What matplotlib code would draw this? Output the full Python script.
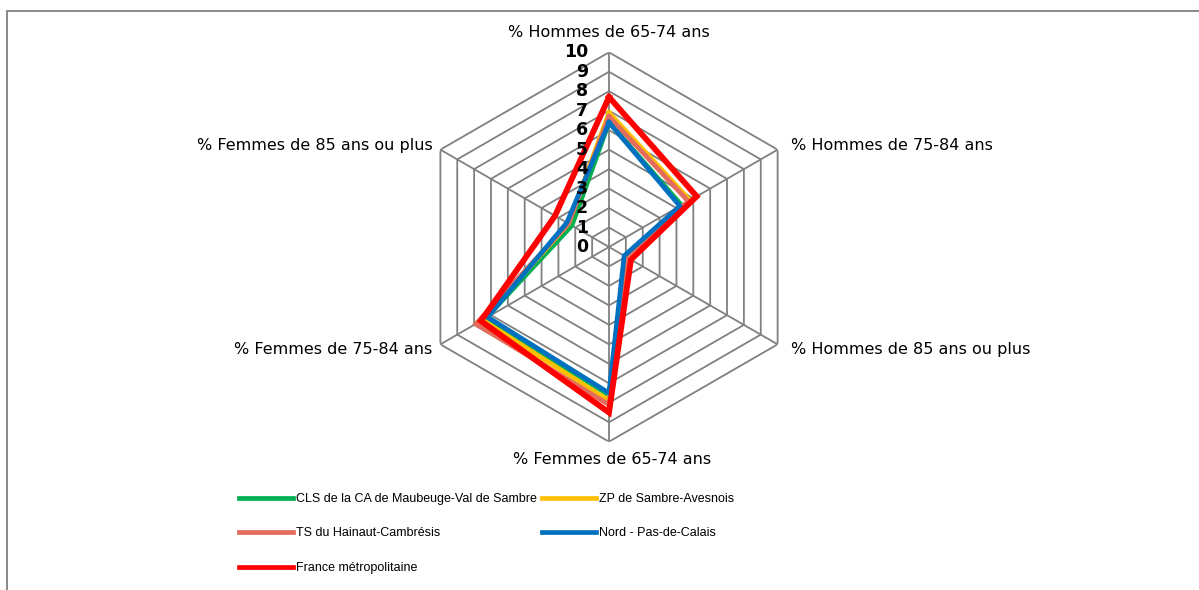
import numpy as np
import matplotlib
matplotlib.use("Agg")
import matplotlib.pyplot as plt
from matplotlib.lines import Line2D

# axes of the radar, clockwise from the top
categories = ["% Hommes de 65-74 ans", "% Hommes de 75-84 ans", "% Hommes de 85 ans ou plus",
              "% Femmes de 65-74 ans", "% Femmes de 75-84 ans", "% Femmes de 85 ans ou plus"]

cls_maubeuge = [6.4, 4.3, 1.0, 7.6, 7.3, 2.2]
zp_sambre = [6.9, 4.8, 1.0, 7.9, 7.5, 2.4]
ts_hainaut = [6.7, 4.7, 1.0, 8.1, 7.9, 2.4]
nord_pdc = [6.4, 4.2, 0.9, 7.5, 7.2, 2.5]
france = [7.7, 5.2, 1.3, 8.5, 7.6, 3.2]

series_names = ["CLS de la CA de Maubeuge-Val de Sambre", "ZP de Sambre-Avesnois",
                "TS du Hainaut-Cambrésis", "Nord - Pas-de-Calais", "France métropolitaine"]
rings = list(range(0, 11))

W, H = 1199, 590
fig = plt.figure(figsize=(W / 100, H / 100), dpi=100)

# outer chart frame (only top/left visible in the crop)
fig.add_artist(plt.Rectangle((7 / W, -0.2), 1.5, 1.2 - 11 / H, transform=fig.transFigure,
                             fill=False, edgecolor="#808080", lw=1.3))

cx, cy, R = 609, H - 247, 194.7
ax = fig.add_axes([(cx - R) / W, (cy - R) / H, 2 * R / W, 2 * R / H], projection="polar")
ax.set_theta_offset(np.pi / 2)
ax.set_theta_direction(-1)
ax.set_ylim(0, 10)
ax.grid(False)
ax.spines["polar"].set_visible(False)
ax.set_xticks([])
ax.set_yticks([])
ax.patch.set_alpha(0)

n = len(categories)
angles = np.arange(n) * 2 * np.pi / n
closed = np.append(angles, angles[0])

grid_col = "#808080"
for r in rings[1:]:
    ax.plot(closed, [r] * (n + 1), color=grid_col, lw=1.3, zorder=1)
for a in angles:
    ax.plot([a, a], [0, 10], color=grid_col, lw=1.3, zorder=1)

colors = ["#00B050", "#FFC000", "#E46C5C", "#0070C0", "#FF0000"]
data = [cls_maubeuge, zp_sambre, ts_hainaut, nord_pdc, france]
widths = [3.4, 3.4, 3.4, 3.4, 4.2]
for vals, c, lw in zip(data, colors, widths):
    ax.plot(closed, vals + [vals[0]], color=c, lw=lw, zorder=3, solid_joinstyle="miter")

for r in rings:
    ax.annotate(str(r), xy=(0, r), xytext=(-21, 0), textcoords="offset pixels",
                ha="right", va="center", fontsize=12.5, fontweight="bold",
                family="DejaVu Sans", zorder=4)

label_offsets = [(0, 20, "center"), (13, 4, "left"), (13, -5, "left"),
                 (3, -18, "center"), (-8, -5, "right"), (-8, 4, "right")]
for a, lab, (dx, dy, ha) in zip(angles, categories, label_offsets):
    ax.annotate(lab, xy=(a, 10), xytext=(dx, dy), textcoords="offset pixels",
                ha=ha, va="center", fontsize=11.5, family="DejaVu Sans", annotation_clip=False)

handles = [Line2D([], [], color=c, lw=3.4) for c in colors]
order = [0, 2, 4, 1, 3]
fig.legend([handles[i] for i in order], [series_names[i] for i in order],
           loc="upper left", bbox_to_anchor=(239 / W, 1 - 493 / H), ncol=2,
           frameon=False, prop={"family": "Liberation Sans", "size": 9.0},
           handlelength=4.3, handletextpad=0.25, columnspacing=0.4,
           labelspacing=1.8, borderpad=0, borderaxespad=0)

fig.savefig("out.png", dpi=100)
